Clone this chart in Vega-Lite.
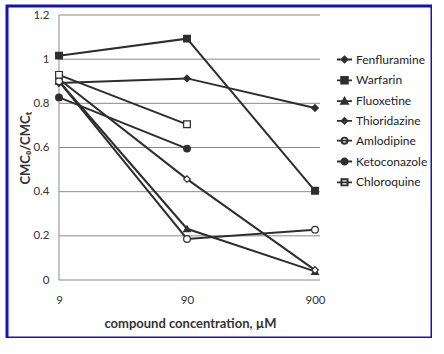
{
  "$schema": "https://vega.github.io/schema/vega-lite/v6.json",
  "width": 425,
  "height": 332,
  "autosize": {"type": "none"},
  "padding": {"left": 7, "top": 6, "right": 0, "bottom": 0},
  "background": "white",
  "config": {
    "view": {"stroke": "#1414b4", "strokeWidth": 3},
    "font": "Lato"
  },
  "datasets": {
    "series": [
      {"drug": "Fenfluramine", "conc": 9, "ratio": 0.892},
      {"drug": "Fenfluramine", "conc": 90, "ratio": 0.913},
      {"drug": "Fenfluramine", "conc": 900, "ratio": 0.779},
      {"drug": "Warfarin", "conc": 9, "ratio": 1.016},
      {"drug": "Warfarin", "conc": 90, "ratio": 1.093},
      {"drug": "Warfarin", "conc": 900, "ratio": 0.404},
      {"drug": "Fluoxetine", "conc": 9, "ratio": 0.9},
      {"drug": "Fluoxetine", "conc": 90, "ratio": 0.232},
      {"drug": "Fluoxetine", "conc": 900, "ratio": 0.039},
      {"drug": "Thioridazine", "conc": 9, "ratio": 0.91},
      {"drug": "Thioridazine", "conc": 90, "ratio": 0.457},
      {"drug": "Thioridazine", "conc": 900, "ratio": 0.045},
      {"drug": "Amlodipine", "conc": 9, "ratio": 0.9},
      {"drug": "Amlodipine", "conc": 90, "ratio": 0.186},
      {"drug": "Amlodipine", "conc": 900, "ratio": 0.228},
      {"drug": "Ketoconazole", "conc": 9, "ratio": 0.827},
      {"drug": "Ketoconazole", "conc": 90, "ratio": 0.595},
      {"drug": "Chloroquine", "conc": 9, "ratio": 0.929},
      {"drug": "Chloroquine", "conc": 90, "ratio": 0.705}
    ],
    "grid": [
      {"y": 0}, {"y": 0.2}, {"y": 0.4}, {"y": 0.6}, {"y": 0.8}, {"y": 1}, {"y": 1.2}
    ]
  },
  "resolve": {"scale": {"shape": "independent"}, "legend": {"shape": "independent"}},
  "layer": [
    {
      "data": {"name": "grid"},
      "mark": {"type": "rule", "color": "#8a8a8a", "strokeWidth": 1},
      "encoding": {
        "y": {
          "field": "y", "type": "quantitative",
          "scale": {"domain": [-0.2626, 1.2408], "nice": false, "zero": false},
          "axis": {
            "values": [0, 0.2, 0.4, 0.6, 0.8, 1, 1.2],
            "format": "~g",
            "grid": false, "domain": false, "ticks": false, "tickSize": 0,
            "labelPadding": 10, "offset": -52,
            "labelFont": "Lato", "labelFontSize": 11.5, "labelColor": "#333",
            "title": "CMC₀/CMCₜ",
            "titleFont": "Lato", "titleFontSize": 13, "titleFontWeight": "bold", "titleColor": "#333",
            "titleX": -34, "titleY": 142, "titleAngle": -90, "titleAlign": "center", "titleBaseline": "middle"
          }
        },
        "x": {"datum": 9, "type": "quantitative", "scale": {"type": "log", "domain": [3.532, 7385], "nice": false}},
        "x2": {"datum": 984.7}
      }
    },
    {
      "data": {"values": [{}]},
      "mark": {"type": "rule", "color": "#8a8a8a", "strokeWidth": 1},
      "encoding": {
        "x": {"datum": 9, "type": "quantitative", "scale": {"type": "log", "domain": [3.532, 7385], "nice": false}},
        "y": {"datum": 0, "type": "quantitative", "scale": {"domain": [-0.2626, 1.2408], "nice": false, "zero": false}},
        "y2": {"datum": 1.2}
      }
    },
    {
      "data": {"name": "series"},
      "mark": {"type": "line", "strokeWidth": 2, "color": "#2e2e2e"},
      "encoding": {
        "x": {
          "field": "conc", "type": "quantitative",
          "scale": {"type": "log", "domain": [3.532, 7385], "nice": false},
          "axis": {
            "values": [9, 90, 900], "format": "d",
            "grid": false, "domain": false, "ticks": false, "tickSize": 0,
            "offset": -58, "labelPadding": 14,
            "labelFont": "Lato", "labelFontSize": 11.5, "labelColor": "#333",
            "title": "compound concentration, µM",
            "titleFont": "Lato", "titleFontSize": 13, "titleFontWeight": "bold", "titleColor": "#333",
            "titleX": 183, "titleY": 43, "titleAlign": "center", "titleBaseline": "middle"
          }
        },
        "y": {"field": "ratio", "type": "quantitative", "scale": {"domain": [-0.2626, 1.2408], "nice": false, "zero": false}},
        "detail": {"field": "drug"}
      }
    },
    {
      "data": {"name": "series"},
      "mark": {"type": "point", "size": 45, "strokeWidth": 1.2, "opacity": 1},
      "encoding": {
        "x": {"field": "conc", "type": "quantitative", "scale": {"type": "log", "domain": [3.532, 7385], "nice": false}},
        "y": {"field": "ratio", "type": "quantitative", "scale": {"domain": [-0.2626, 1.2408], "nice": false, "zero": false}},
        "shape": {
          "field": "drug", "type": "nominal",
          "scale": {
            "domain": ["Fenfluramine", "Warfarin", "Fluoxetine", "Thioridazine", "Amlodipine", "Ketoconazole", "Chloroquine"],
            "range": ["diamond", "square", "triangle-up", "diamond", "circle", "circle", "square"]
          },
          "legend": null
        },
        "fill": {
          "field": "drug", "type": "nominal",
          "scale": {
            "domain": ["Fenfluramine", "Warfarin", "Fluoxetine", "Thioridazine", "Amlodipine", "Ketoconazole", "Chloroquine"],
            "range": ["#2e2e2e", "#2e2e2e", "#2e2e2e", "white", "white", "#2e2e2e", "white"]
          },
          "legend": null
        },
        "stroke": {"value": "#2e2e2e"}
      }
    },
    {
      "data": {"name": "series"},
      "transform": [{"filter": "false"}],
      "mark": {"type": "point", "filled": true, "color": "#2e2e2e", "strokeWidth": 1.8, "opacity": 1},
      "encoding": {
        "x": {"field": "conc", "type": "quantitative", "scale": {"type": "log", "domain": [3.532, 7385], "nice": false}},
        "y": {"field": "ratio", "type": "quantitative", "scale": {"domain": [-0.2626, 1.2408], "nice": false, "zero": false}},
        "shape": {
          "field": "drug", "type": "nominal",
          "scale": {
            "domain": ["Fenfluramine", "Warfarin", "Fluoxetine", "Thioridazine", "Amlodipine", "Ketoconazole", "Chloroquine"],
            "range": [
              "M-1,0H1M-0.4,0L0,-0.4L0.4,0L0,0.4Z",
              "M-1,0H1M-0.45,-0.45H0.45V0.45H-0.45Z",
              "M-1,0H1M0,-0.45L0.45,0.35H-0.45Z",
              "M-1,0H1M-0.38,0L0,-0.38L0.38,0L0,0.38ZM-0.36,0L0,0.36L0.36,0L0,-0.36Z",
              "M-1,0H1M-0.42,0A0.42,0.42 0 1 1 0.42,0A0.42,0.42 0 1 1 -0.42,0ZM-0.4,0A0.4,0.4 0 1 0 0.4,0A0.4,0.4 0 1 0 -0.4,0Z",
              "M-1,0H1M-0.42,0A0.42,0.42 0 1 1 0.42,0A0.42,0.42 0 1 1 -0.42,0Z",
              "M-1,0H1M-0.42,-0.42H0.42V0.42H-0.42ZM-0.4,-0.4V0.4H0.4V-0.4Z"
            ]
          },
          "legend": {
            "orient": "none", "legendX": 329, "legendY": 45,
            "title": null, "padding": 0,
            "symbolSize": 225, "symbolStrokeWidth": 1.8,
            "labelFont": "Lato", "labelFontSize": 12, "labelColor": "#222",
            "labelOffset": 3, "rowPadding": 4.8
          }
        },
        "stroke": {"value": "#2e2e2e"}
      }
    }
  ]
}
